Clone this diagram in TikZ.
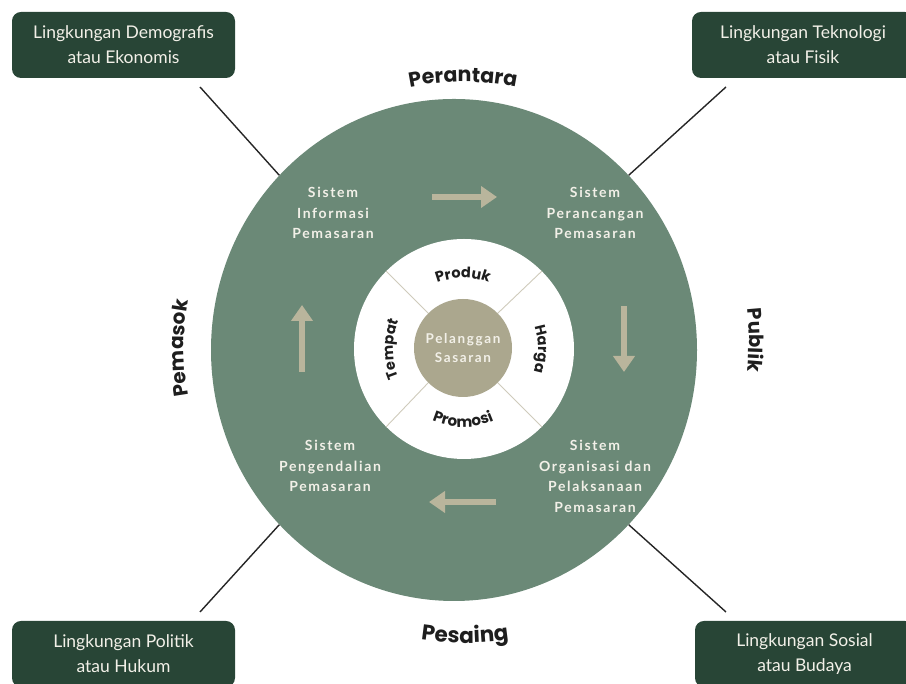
\documentclass[tikz,border=0pt]{standalone}
\usepackage{fontspec}
\setmainfont{Lato}
\newfontfamily\labfont{Poppins}
\newfontfamily\sysfont{Lato}[LetterSpace=12]
\usetikzlibrary{decorations.text,arrows.meta,shapes.geometric}
\definecolor{bigc}{HTML}{6B8977}
\definecolor{boxc}{HTML}{284536}
\definecolor{tanc}{HTML}{ABA78E}
\definecolor{arrc}{HTML}{B9B59C}
\definecolor{cream}{HTML}{F2F0E8}
\definecolor{divc}{HTML}{CFCBBB}
\definecolor{labc}{HTML}{1E1E1E}
\newcommand\outerlab[1]{\labfont\bfseries\fontsize{#1}{22}\selectfont\color{labc}}
\newcommand\innerlab[1]{\labfont\bfseries\fontsize{#1}{16}\selectfont\color{labc}}
\begin{document}
\begin{tikzpicture}[x=1pt,y=1pt,
  envbox/.style={fill=boxc, rounded corners=9pt, minimum width=223pt, minimum height=66pt,
    text=cream, align=center, inner sep=0pt, font=\fontsize{17.5}{25}\selectfont},
  conn/.style={draw=black!85, line width=1.4pt},
  sysbox/.style={text=cream, align=center, inner sep=0pt,
    font=\sysfont\bfseries\fontsize{14}{20.5}\selectfont},
  flow/.style={draw=arrc, line width=6.5pt, -{Triangle[length=16pt,width=21pt]}},
  arclab/.style={decorate, decoration={text along path, text align=center, text={#1}}}
]
\useasboundingbox (0,0) rectangle (906,684);

% main ring
\node[ellipse, fill=bigc, minimum width=486pt, minimum height=502pt, inner sep=0pt] (ring) at (454,334) {};
\node[circle, fill=white, minimum size=220pt, inner sep=0pt] (inner) at (464,335) {};
\node[circle, fill=tanc, minimum size=98pt, inner sep=0pt, text=cream, align=center,
  font=\sysfont\bfseries\fontsize{13.5}{19}\selectfont] (core) at (463,336) {Pelanggan\\Sasaran};
\foreach \a in {45,135,225,315} \draw[divc, line width=0.9pt] (core.\a) -- (inner.\a);

% environment boxes
\node[envbox] (demo) at (123.5,639) {Lingkungan Demografis\\atau Ekonomis};
\node[envbox, minimum width=222pt] (tekno) at (803,639) {Lingkungan Teknologi\\atau Fisik};
\node[envbox] (poli) at (123.5,30) {Lingkungan Politik\\atau Hukum};
\node[envbox, minimum width=219pt] (sosi) at (804.5,30) {Lingkungan Sosial\\atau Budaya};

\coordinate (demoL) at (200,597);
\coordinate (teknoL) at (726,597);
\coordinate (poliL) at (200,72);
\coordinate (sosiL) at (726,72);
\draw[conn] (demoL) -- (ring.135);
\draw[conn] (teknoL) -- (ring.45);
\draw[conn] (poliL) -- (ring.225);
\draw[conn] (sosiL) -- (ring.315);

% systems
\node[sysbox] (sip) at (333,471) {Sistem\\Informasi\\Pemasaran};
\node[sysbox] (spp) at (595,471) {Sistem\\Perancangan\\Pemasaran};
\node[sysbox] (spg) at (330,218) {Sistem\\Pengendalian\\Pemasaran};
\node[sysbox] (sop) at (595,207.5) {Sistem\\Organisasi dan\\Pelaksanaan\\Pemasaran};

% flow arrows
\coordinate (f1a) at (432,487); \coordinate (f1b) at (497,487);
\coordinate (f2a) at (624,378); \coordinate (f2b) at (624,312);
\coordinate (f3a) at (496,182); \coordinate (f3b) at (429,182);
\coordinate (f4a) at (302,312); \coordinate (f4b) at (302,379);
\draw[flow] (f1a) -- (f1b);
\draw[flow] (f2a) -- (f2b);
\draw[flow] (f3a) -- (f3b);
\draw[flow] (f4a) -- (f4b);

% outer arc labels
\path[arclab={|\outerlab{20.5}|Perantara}] ([shift={(120:268)}]463,334) arc[start angle=120, end angle=60, radius=268];
\path[arclab={|\outerlab{21.5}|Pesaing}] ([shift={(240:293)}]465,334) arc[start angle=240, end angle=300, radius=293];
\path[arclab={|\outerlab{20}|Pemasok}] ([shift={(210:270)}]454,336) arc[start angle=210, end angle=150, radius=270];
\path[arclab={|\outerlab{19.5}|Publik}] ([shift={(30:295)}]454,344) arc[start angle=30, end angle=-30, radius=295];

% inner arc labels
\path[arclab={|\innerlab{14.5}|Produk}] ([shift={(150:71)}]463,335) arc[start angle=150, end angle=30, radius=71];
\path[arclab={|\innerlab{15}|Promosi}] ([shift={(210:78)}]463,335) arc[start angle=210, end angle=330, radius=78];
\path[arclab={|\innerlab{14.5}|Harga}] ([shift={(30:75)}]463,335) arc[start angle=30, end angle=-30, radius=75];
\path[arclab={|\innerlab{14.5}|Tempat}] ([shift={(210:70)}]463,335) arc[start angle=210, end angle=150, radius=70];
\end{tikzpicture}
\end{document}
